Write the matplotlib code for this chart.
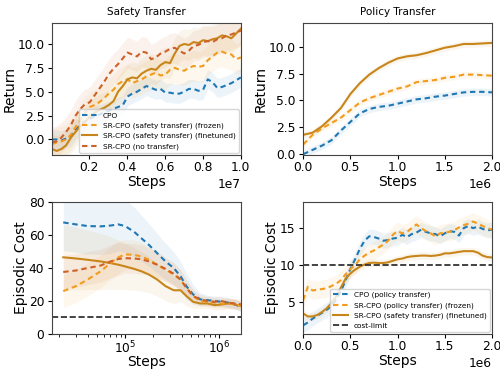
import numpy as np
import matplotlib
matplotlib.use("Agg")
import matplotlib.pyplot as plt

# ---------------- data ----------------
# Safety Transfer (return), x in steps
st_x = np.linspace(5e4, 1e7, 41)
st_cpo = [0.0, 0.0, -0.1, 0.1, 0.3, 1.0, 1.5, 1.9, 2.2, 2.4, 2.6, 2.8, 3.0, 3.2, 3.4, 3.6,
          4.5, 4.8, 5.0, 5.3, 5.6, 5.4, 5.2, 5.3, 4.9, 4.9, 4.8, 4.8, 5.0, 5.3, 5.3, 5.1,
          5.2, 6.3, 6.0, 5.4, 5.5, 5.7, 5.9, 6.2, 6.5]
st_frozen = [-0.5, -0.3, -0.2, 0.0, 0.5, 1.3, 2.0, 2.8, 3.4, 3.6, 3.9, 4.3, 4.8, 5.2, 5.8, 6.1,
             6.3, 5.9, 6.1, 6.3, 6.6, 6.8, 7.0, 6.7, 6.8, 7.3, 7.5, 7.3, 7.2, 7.5, 7.7, 7.6,
             7.7, 8.3, 8.7, 9.1, 9.2, 9.0, 8.9, 8.4, 8.6]
st_finetuned = [-1.0, -1.2, -1.0, -0.6, 0.2, 0.8, 1.4, 1.8, 2.4, 2.8, 3.1, 3.3, 3.6, 4.0, 5.0, 5.6,
                6.3, 6.5, 6.4, 6.9, 7.2, 7.4, 7.3, 7.8, 8.1, 8.0, 9.0, 9.8, 10.0, 9.9, 10.2, 10.1,
                10.4, 10.3, 10.5, 10.6, 10.9, 10.8, 10.6, 11.1, 11.6]
st_notransfer = [-0.3, -0.2, 0.2, 0.8, 1.5, 2.5, 3.2, 3.7, 3.9, 4.6, 5.3, 6.0, 6.8, 7.4, 7.9, 8.5,
                 9.1, 8.9, 8.7, 9.2, 9.1, 8.4, 8.6, 9.0, 9.2, 9.5, 9.6, 9.3, 9.0, 9.3, 9.8, 9.9,
                 10.2, 10.3, 10.2, 10.5, 10.6, 10.9, 11.0, 11.2, 11.4]
st_band_cpo = 1.0
st_band_other = 1.6

# Policy Transfer (return)
pt_x = np.linspace(0, 2e6, 21)
pt_finetuned = [1.8, 2.0, 2.6, 3.4, 4.3, 5.6, 6.6, 7.4, 8.0, 8.5, 8.9, 9.1, 9.2, 9.4, 9.65,
                9.9, 10.05, 10.25, 10.25, 10.3, 10.35]
pt_frozen = [0.9, 1.8, 2.4, 2.9, 3.4, 4.1, 4.8, 5.2, 5.5, 5.8, 6.1, 6.3, 6.7, 6.8, 6.9,
             7.1, 7.2, 7.4, 7.4, 7.35, 7.3]
pt_cpo = [0.0, 0.4, 0.8, 1.3, 2.2, 3.0, 3.8, 4.2, 4.4, 4.5, 4.7, 4.9, 5.1, 5.2, 5.35,
          5.45, 5.6, 5.75, 5.8, 5.8, 5.75]

# Safety Transfer (cost), log x
sc_x = [2.2e4, 3e4, 4e4, 5.5e4, 7e4, 8.5e4, 1e5, 1.25e5, 1.5e5, 1.8e5, 2.2e5, 2.7e5,
        3.3e5, 3.9e5, 4.5e5, 5.3e5, 6.3e5, 7.5e5, 9e5, 1.05e6, 1.25e6, 1.45e6, 1.71e6]
sc_cpo = [67.7, 66.5, 65.5, 65.3, 65.8, 66.5, 65.5, 62, 58, 54, 49, 44, 40, 35, 29, 24,
          21, 20.5, 20, 19.5, 19, 18, 16.5]
sc_finetuned = [46.5, 45.8, 45, 44, 43, 42, 41, 39.5, 38, 36, 33, 29, 26.5, 26.5, 23, 19.5,
                18.5, 18.5, 17.5, 17.8, 18.5, 18, 17]
sc_frozen = [26, 29, 33, 38, 43, 46.5, 48.3, 48, 47, 45, 42, 39, 36, 33, 28, 23,
             20, 19.5, 19, 18.5, 18, 18.5, 17]
sc_notransfer = [37.6, 38.5, 40, 41.5, 44, 45.5, 46, 45.8, 45.3, 44, 42, 39.5, 36.5, 33, 28, 23,
                 21, 20, 19.5, 20, 19, 18.5, 18]
sc_band_cpo = [17, 17, 17, 17, 17, 16, 16, 15, 14, 13, 12, 11, 10, 9, 8, 6, 4, 3, 3, 3, 3, 3, 3]
sc_band_ft = [20, 19, 18, 17, 16, 15, 14, 13, 12, 11, 10, 9, 8, 7, 6, 4, 3, 3, 3, 3, 3, 3, 3]
sc_band_other = [10, 10, 10, 10, 10, 10, 9, 9, 9, 8, 8, 7, 7, 6, 5, 4, 3, 3, 3, 3, 3, 3, 3]

# Policy Transfer (cost)
pc_x = np.linspace(0, 2e6, 41)
pc_cpo = [1.9, 2.3, 2.8, 3.2, 3.6, 4.0, 4.5, 5.4, 6.5, 8.0, 9.5, 10.8, 12.2, 13.3, 13.9, 13.8,
          13.6, 13.3, 13.4, 13.6, 13.7, 14.1, 13.8, 14.2, 14.4, 14.8, 14.5, 14.3, 14.2, 13.9,
          14.3, 14.6, 14.5, 14.0, 15.0, 15.3, 15.0, 15.2, 14.9, 14.7, 14.8]
pc_frozen = [5.3, 7.1, 6.6, 6.7, 6.8, 6.9, 7.2, 7.5, 8.0, 8.8, 9.5, 10.0, 10.8, 11.3, 11.7, 12.0,
             12.4, 12.8, 13.3, 14.1, 14.6, 14.3, 14.5, 15.0, 15.5, 15.0, 14.6, 14.3, 13.9, 14.3,
             14.4, 14.5, 14.7, 15.1, 15.4, 15.6, 15.9, 15.6, 15.3, 15.0, 14.8]
pc_finetuned = [3.5, 3.1, 3.1, 3.3, 3.7, 4.2, 4.9, 5.8, 7.0, 8.2, 8.9, 9.4, 9.8, 10.1, 10.3, 10.35,
                10.3, 10.3, 10.4, 10.6, 10.8, 10.9, 11.1, 11.2, 11.25, 11.3, 11.3, 11.25, 11.3, 11.4,
                11.6, 11.6, 11.7, 11.8, 11.9, 11.9, 11.9, 11.7, 11.3, 11.1, 11.05]
pc_band_cpo = 1.0
pc_band_frozen = 1.2
pc_band_ft = 0.5
cost_limit = 10

# ---------------- style ----------------
C_CPO = "#1f77b4"
C_FROZEN = "#f29b1d"
C_FT = "#c8861a"
C_NT = "#cd6228"
DASH = (0, (2.6, 1.8))
LW = 1.5
BA = 0.08

plt.rcParams.update({"font.size": 9, "xtick.labelsize": 8.8, "ytick.labelsize": 8.8,
                     "axes.labelsize": 10, "axes.edgecolor": "#444444",
                     "xtick.major.size": 3, "ytick.major.size": 3,
                     "xtick.major.pad": 1.5, "ytick.major.pad": 2.5,
                     "axes.labelpad": 0.5})

fig, axes = plt.subplots(2, 2, figsize=(5.0, 3.71), dpi=100)
fig.subplots_adjust(left=0.104, right=0.984, top=0.938, bottom=0.1, wspace=0.33, hspace=0.36)


def band(ax, x, y, hw, c):
    y = np.asarray(y, float)
    hw = np.asarray(hw, float) if np.ndim(hw) else hw
    ax.fill_between(x, y - hw, y + hw, color=c, alpha=BA, lw=0)


# Top-left
ax = axes[0, 0]
for y, c, ls, lab, hw in [(st_cpo, C_CPO, DASH, "CPO", st_band_cpo),
                          (st_frozen, C_FROZEN, DASH, "SR-CPO (safety transfer) (frozen)", st_band_other),
                          (st_finetuned, C_FT, "-", "SR-CPO (safety transfer) (finetuned)", st_band_other),
                          (st_notransfer, C_NT, DASH, "SR-CPO (no transfer)", st_band_other)]:
    band(ax, st_x, y, hw, c)
    ax.plot(st_x, y, color=c, ls=ls, lw=LW, label=lab)
ax.set_xlim(5e4, 1e7)
ax.set_ylim(-1.6, 12.2)
ax.set_yticks([0, 2.5, 5, 7.5, 10])
ax.set_title("Safety Transfer", fontsize=7.5)
ax.set_xlabel("Steps")
ax.set_ylabel("Return")
ax.legend(loc="lower right", fontsize=5.3, borderaxespad=0.3, handlelength=2.0)

# Top-right
ax = axes[0, 1]
for y, c, ls, hw in [(pt_cpo, C_CPO, DASH, 0.35), (pt_frozen, C_FROZEN, DASH, 0.3),
                     (pt_finetuned, C_FT, "-", 0.3)]:
    band(ax, pt_x, y, hw, c)
    ax.plot(pt_x, y, color=c, ls=ls, lw=LW)
ax.set_xlim(0, 2e6)
ax.set_ylim(-0.05, 12.2)
ax.set_yticks([0, 2.5, 5, 7.5, 10])
ax.set_title("Policy Transfer", fontsize=7.5)
ax.set_xlabel("Steps")
ax.set_ylabel("Return")

# Bottom-left
ax = axes[1, 0]
for y, c, ls, hw in [(sc_cpo, C_CPO, DASH, sc_band_cpo), (sc_finetuned, C_FT, "-", sc_band_ft),
                     (sc_frozen, C_FROZEN, DASH, sc_band_other), (sc_notransfer, C_NT, DASH, sc_band_other)]:
    band(ax, sc_x, y, hw, c)
    ax.plot(sc_x, y, color=c, ls=ls, lw=LW)
ax.axhline(cost_limit, color="#222222", ls="--", lw=1.2)
ax.set_xscale("log")
ax.set_xlim(1.67e4, 1.71e6)
ax.set_ylim(0, 80)
ax.set_xlabel("Steps", labelpad=-1.0)
ax.set_ylabel("Episodic Cost")

# Bottom-right
ax = axes[1, 1]
for y, c, ls, lab, hw in [(pc_cpo, C_CPO, DASH, "CPO (policy transfer)", pc_band_cpo),
                          (pc_frozen, C_FROZEN, DASH, "SR-CPO (policy transfer) (frozen)", pc_band_frozen),
                          (pc_finetuned, C_FT, "-", "SR-CPO (safety transfer) (finetuned)", pc_band_ft)]:
    band(ax, pc_x, y, hw, c)
    ax.plot(pc_x, y, color=c, ls=ls, lw=LW, label=lab)
ax.axhline(cost_limit, color="#222222", ls="--", lw=1.2, label="cost-limit")
ax.set_xlim(0, 2e6)
ax.set_ylim(0.75, 18.5)
ax.set_yticks([5, 10, 15])
ax.set_xlabel("Steps")
ax.set_ylabel("Episodic Cost")
ax.legend(loc="lower right", fontsize=5.3, borderaxespad=0.3, handlelength=2.0)

fig.savefig("out.png", dpi=100)
